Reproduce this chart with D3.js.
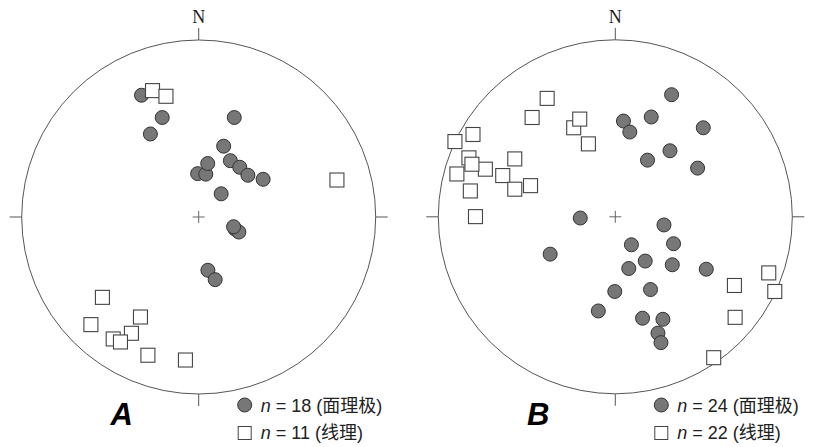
<!DOCTYPE html>
<html>
<head>
<meta charset="utf-8">
<script src="https://cdn.jsdelivr.net/npm/d3@7/dist/d3.min.js"></script>
<style>
  body { margin: 0; background: #fff; }
</style>
</head>
<body>
<div id="chart"></div>
<script>
// stereonet plots, east / north in units of the net radius
const polesA = [[-0.323, 0.688], [-0.206, 0.562], [-0.273, 0.469], [0.201, 0.562], [0.141, 0.400],
  [-0.006, 0.245], [0.040, 0.242], [0.051, 0.302], [0.179, 0.318], [0.232, 0.281], [0.278, 0.236],
  [0.364, 0.213], [0.127, 0.131], [0.205, -0.068], [0.227, -0.085], [0.197, -0.055],
  [0.052, -0.301], [0.093, -0.354]];
const linesA = [[-0.261, 0.714], [-0.185, 0.682], [0.781, 0.209], [-0.544, -0.454], [-0.609, -0.608],
  [-0.329, -0.565], [-0.380, -0.657], [-0.483, -0.689], [-0.442, -0.706], [-0.287, -0.781],
  [-0.075, -0.808]];

const polesB = [[0.318, 0.690], [0.203, 0.564], [0.046, 0.541], [0.082, 0.479], [0.497, 0.503],
  [0.309, 0.373], [0.182, 0.320], [0.465, 0.275], [-0.198, -0.007], [0.275, -0.046],
  [0.091, -0.158], [0.329, -0.152], [0.169, -0.250], [0.076, -0.292], [0.322, -0.271],
  [0.514, -0.296], [-0.368, -0.211], [-0.003, -0.422], [0.199, -0.411], [-0.096, -0.532],
  [0.154, -0.573], [0.269, -0.579], [0.241, -0.657], [0.258, -0.711]];
const linesB = [[-0.385, 0.669], [-0.470, 0.561], [-0.235, 0.503], [-0.201, 0.552], [-0.152, 0.412],
  [-0.804, 0.465], [-0.906, 0.425], [-0.827, 0.333], [-0.734, 0.269], [-0.810, 0.297],
  [-0.895, 0.242], [-0.568, 0.327], [-0.636, 0.233], [-0.568, 0.156], [-0.479, 0.176],
  [-0.819, 0.146], [-0.790, 0.001], [0.867, -0.317], [0.673, -0.388], [0.901, -0.422],
  [0.677, -0.568], [0.556, -0.796]];

const poleLabel = '面理极';
const lineLabel = '线理';

const width = 829, height = 447;
const radius = 177;
const sansFont = '"Liberation Sans", Arial, "Noto Sans CJK SC", sans-serif';

const svg = d3.select('#chart').append('svg')
  .attr('width', width)
  .attr('height', height);

function drawNet(cx, cy, poles, lines, letter) {
  const x = d3.scaleLinear().domain([-1, 1]).range([cx - radius, cx + radius]);
  const y = d3.scaleLinear().domain([-1, 1]).range([cy + radius, cy - radius]);
  const g = svg.append('g');

  g.append('circle')
    .attr('cx', x(0)).attr('cy', y(0)).attr('r', radius)
    .attr('fill', 'none').attr('stroke', '#555').attr('stroke-width', 1);

  // tick marks at N, E, S, W
  const tick = 12 / radius;
  [[0, 1, 0, 1 + tick], [1, 0, 1 + tick, 0], [0, -1, 0, -1 - tick], [-1, 0, -1 - tick, 0]]
    .forEach((t) => {
      g.append('line')
        .attr('x1', x(t[0])).attr('y1', y(t[1]))
        .attr('x2', x(t[2])).attr('y2', y(t[3]))
        .attr('stroke', '#555').attr('stroke-width', 1);
    });

  // centre cross
  g.append('path')
    .attr('d', 'M' + (x(0) - 6) + ',' + y(0) + 'H' + (x(0) + 6) + 'M' + x(0) + ',' + (y(0) - 6) + 'V' + (y(0) + 6))
    .attr('stroke', '#666').attr('stroke-width', 1);

  g.append('text')
    .attr('x', x(0)).attr('y', y(1) - 17)
    .attr('text-anchor', 'middle')
    .style('font-family', '"Liberation Serif", "Times New Roman", serif')
    .style('font-size', '18px')
    .attr('fill', '#222')
    .text('N');

  g.selectAll('.pole')
    .data(poles)
    .enter().append('circle')
    .attr('class', 'pole')
    .attr('cx', (d) => x(d[0]))
    .attr('cy', (d) => y(d[1]))
    .attr('r', 7)
    .attr('fill', '#777')
    .attr('stroke', '#333')
    .attr('stroke-width', 1);

  g.selectAll('.lin')
    .data(lines)
    .enter().append('rect')
    .attr('class', 'lin')
    .attr('x', (d) => x(d[0]) - 7)
    .attr('y', (d) => y(d[1]) - 7)
    .attr('width', 14)
    .attr('height', 14)
    .attr('fill', '#fff')
    .attr('stroke', '#444')
    .attr('stroke-width', 1.1);

  // panel letter
  g.append('text')
    .attr('x', x(0) - 77).attr('y', 425)
    .attr('text-anchor', 'middle')
    .style('font-family', sansFont)
    .style('font-size', '31px')
    .style('font-weight', 'bold')
    .style('font-style', 'italic')
    .attr('fill', '#000')
    .text(letter);

  // legend
  const lx = x(0) + 46;
  g.append('circle')
    .attr('cx', lx).attr('cy', 405).attr('r', 7)
    .attr('fill', '#777').attr('stroke', '#333');
  g.append('rect')
    .attr('x', lx - 6.5).attr('y', 426.5).attr('width', 13).attr('height', 13)
    .attr('fill', '#fff').attr('stroke', '#444');

  [[poles.length, poleLabel, 412], [lines.length, lineLabel, 439]].forEach((row) => {
    const t = g.append('text')
      .attr('x', lx + 16).attr('y', row[2])
      .style('font-family', sansFont)
      .style('font-size', '18px')
      .attr('fill', '#222');
    t.append('tspan').style('font-style', 'italic').text('n');
    t.append('tspan').text(' = ' + row[0] + ' (' + row[1] + ')');
  });
}

drawNet(198.7, 217, polesA, linesA, 'A');
drawNet(615.3, 216.8, polesB, linesB, 'B');
</script>
</body>
</html>
